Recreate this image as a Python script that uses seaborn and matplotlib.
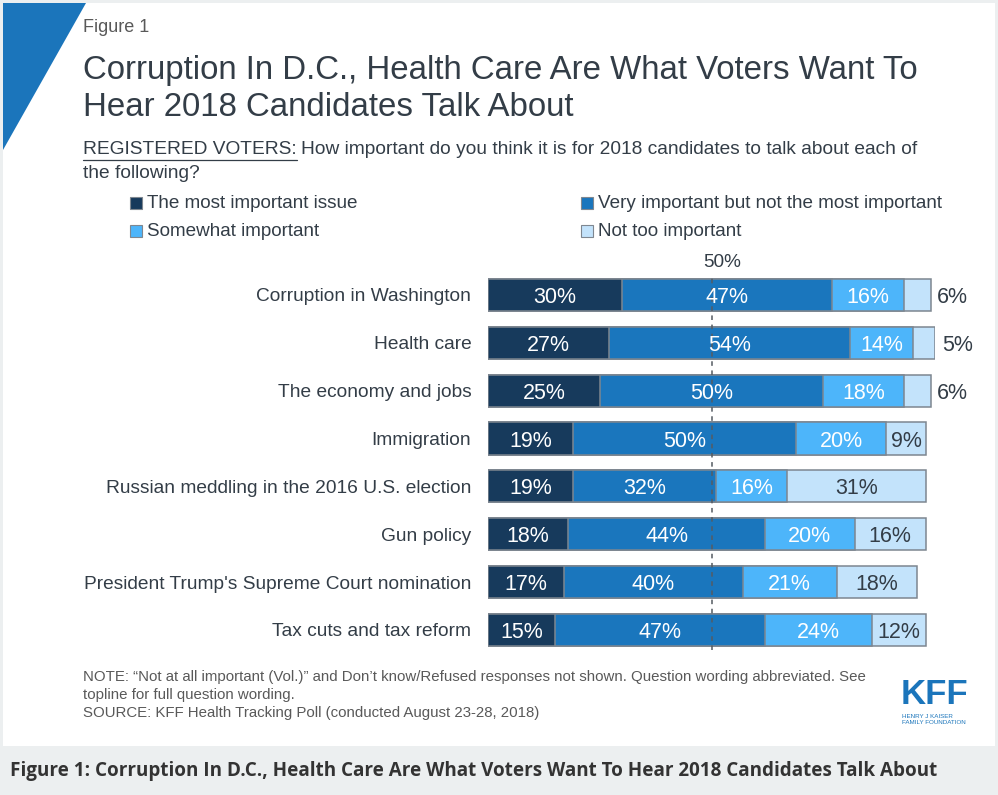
import numpy as np
import pandas as pd
import seaborn as sns
import matplotlib.pyplot as plt
from matplotlib.patches import Rectangle, Polygon

issues = ['Corruption in Washington', 'Health care', 'The economy and jobs', 'Immigration',
          'Russian meddling in the 2016 U.S. election', 'Gun policy',
          "President Trump's Supreme Court nomination", 'Tax cuts and tax reform']
most_important = [30, 27, 25, 19, 19, 18, 17, 15]
very_important = [47, 54, 50, 50, 32, 44, 40, 47]
somewhat_important = [16, 14, 18, 20, 16, 20, 21, 24]
not_too_important = [6, 5, 6, 9, 31, 16, 18, 12]
series_names = ['The most important issue', 'Very important but not the most important',
                'Somewhat important', 'Not too important']
colors = ['#173a5c', '#1a76bd', '#4db5fa', '#c3e3fb']

W, H = 998, 795


def px(x, y):
    return x / W, 1 - y / H


sns.set_theme(style='white')
plt.rcParams['font.family'] = ['Liberation Sans', 'DejaVu Sans']

fig = plt.figure(figsize=(W / 100, H / 100), dpi=100, facecolor='#eceff0')
renderer = fig.canvas.get_renderer()

# white panel, blue corner
fig.patches.append(Rectangle(px(3, 746), 992 / W, 743 / H, transform=fig.transFigure,
                             facecolor='white', edgecolor='none', zorder=-5))
fig.patches.append(Polygon([px(3, 3), px(86, 3), px(3, 150)], closed=True,
                           transform=fig.transFigure, facecolor='#1b75bb', edgecolor='none', zorder=-4))

dark = '#333d47'
fig.text(*px(83, 28), 'Figure 1', fontsize=13, color='#595959', va='center')
fig.text(*px(83, 70), 'Corruption In D.C., Health Care Are What Voters Want To',
         fontsize=23.8, color=dark, va='center')
fig.text(*px(83, 108), 'Hear 2018 Candidates Talk About', fontsize=23.8, color=dark, va='center')

sub = fig.text(*px(83, 150), 'REGISTERED VOTERS:', fontsize=13.8, color=dark, va='center')
bb = sub.get_window_extent(renderer)
fig.add_artist(plt.Line2D([bb.x0 / W, bb.x1 / W], [1 - 160 / H, 1 - 160 / H],
                          transform=fig.transFigure, color=dark, lw=0.9))
fig.text(bb.x1 / W + 4 / W, 1 - 150 / H,
         'How important do you think it is for 2018 candidates to talk about each of',
         fontsize=13.8, color=dark, va='center')
fig.text(*px(83, 174), 'the following?', fontsize=13.8, color=dark, va='center')

# legend
leg_pos = [(130, 203), (581, 203), (130, 231), (581, 231)]
for (lx, ly), name, c in zip(leg_pos, series_names, colors):
    fig.patches.append(Rectangle(px(lx, ly + 6), 12 / W, 12 / H, transform=fig.transFigure,
                                 facecolor=c, edgecolor='#7f8790', lw=0.8))
    fig.text(*px(lx + 17, ly), name, fontsize=13.6, color=dark, va='center')

# bars
ax = fig.add_axes([488 / W, 1 - 653.9 / H, 447 / W, 382.9 / H])
ax.set_facecolor('none')
vals = np.array([most_important, very_important, somewhat_important, not_too_important])
cum = np.cumsum(vals, axis=0)
for i in reversed(range(4)):
    sns.barplot(x=cum[i], y=issues, color=colors[i], width=0.67, saturation=1,
                edgecolor='#7d8690', linewidth=1.1, ax=ax, zorder=2)

for r in range(len(issues)):
    for i in range(4):
        v = vals[i][r]
        if i == 3 and v < 8:
            ax.text(cum[i][r] + 1.5, r, f'{v}%', ha='left', va='center_baseline', fontsize=15.5, color=dark)
        else:
            ax.text(cum[i][r] - v / 2, r, f'{v}%', ha='center', va='center_baseline', fontsize=15.5,
                    color='white' if i < 3 else dark, zorder=5)

ax.axvline(50, ymin=0.01, ymax=0.99, color='#555b62', lw=1.1, ls=(0, (3, 3)), zorder=4, clip_on=False)
ax.text(52.3, -0.72, '50%', ha='center', va='center_baseline', fontsize=13.7, color=dark)
ax.set_xlim(0, 100)
ax.set_ylim(7.5, -0.5)
ax.set_xticks([])
ax.set_xlabel('')
ax.set_ylabel('')
ax.tick_params(axis='y', length=0, pad=12, labelsize=13.8, labelcolor=dark)
sns.despine(ax=ax, left=True, bottom=True)

# notes
notes = ['NOTE: \u201cNot at all important (Vol.)\u201d and Don\u2019t know/Refused responses not shown. Question wording abbreviated. See',
         'topline for full question wording.',
         'SOURCE: KFF Health Tracking Poll (conducted August 23-28, 2018)']
for k, line in enumerate(notes):
    fig.text(*px(83, 677 + k * 18), line, fontsize=10.8, color='#595959', va='center')

# logo
fig.text(*px(934, 695), 'KFF', fontsize=25, fontweight='bold', color='#1b75bb', ha='center', va='center')
fig.text(*px(902, 717), 'HENRY J KAISER', fontsize=4.5, color='#1b75bb', va='center')
fig.text(*px(902, 723), 'FAMILY FOUNDATION', fontsize=4.5, color='#1b75bb', va='center')

fig.text(*px(10, 771), 'Figure 1: Corruption In D.C., Health Care Are What Voters Want To Hear 2018 Candidates Talk About',
         fontsize=13.6, fontweight='bold', color='#333333', va='center', family=['Open Sans', 'DejaVu Sans'])

fig.savefig('out.png', dpi=100, facecolor=fig.get_facecolor())
